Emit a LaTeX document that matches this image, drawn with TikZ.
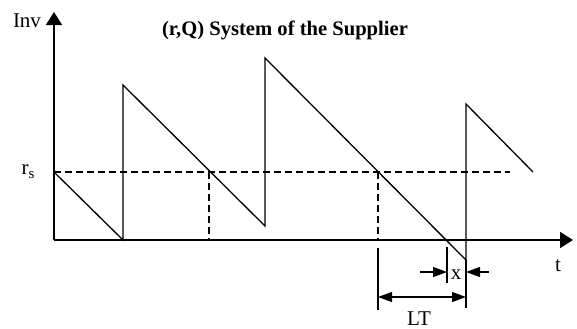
\documentclass[tikz,border=0pt]{standalone}
\usepackage{fontspec}
\setmainfont{Liberation Serif}
\usetikzlibrary{arrows.meta}
\tikzset{
  axisline/.style={line width=1.5bp,-{Triangle[length=13bp,width=16bp]}},
  curve/.style={line width=1.3bp,line join=miter},
  dashline/.style={line width=1.2bp,dash pattern=on 7bp off 4bp},
  extline/.style={line width=1.1bp},
  dimarrow/.style={line width=1.1bp,-{Triangle[length=14bp,width=10bp]}},
  dimboth/.style={line width=1.1bp,{Triangle[length=14bp,width=10bp]}-{Triangle[length=14bp,width=10bp]}},
  lbl/.style={font=\fontsize{21bp}{24bp}\selectfont,inner sep=0pt,anchor=base},
}
\begin{document}
\begin{tikzpicture}[x=1bp,y=-1bp]
\useasboundingbox (0,0) rectangle (577,328);
% key points
\coordinate (O) at (54,240);
\coordinate (ytop) at (54,12);
\coordinate (xend) at (573,240);
\coordinate (r0) at (54,172);
\coordinate (rend) at (510,172);
\coordinate (p1) at (123,240);
\coordinate (p2) at (123,85);
\coordinate (p3) at (265,226);
\coordinate (p4) at (265,58);
\coordinate (p5) at (466,260);
\coordinate (p6) at (466,104);
\coordinate (p7) at (533,172);
\coordinate (c1) at (209,172);
\coordinate (c1b) at (209,240);
\coordinate (c2) at (378,172);
\coordinate (c2b) at (378,240);
\coordinate (e1t) at (378,248);
\coordinate (e1b) at (378,310);
\coordinate (e2t) at (447,247);
\coordinate (e2b) at (447,283);
\coordinate (e3b) at (466,308);
\coordinate (xl) at (420,272);
\coordinate (xlr) at (447,272);
\coordinate (xr) at (489,272);
\coordinate (xrl) at (466,272);
\coordinate (lta) at (378,297);
\coordinate (ltb) at (466,297);
% axes
\draw[axisline] (O) -- (ytop);
\draw[axisline] (O) -- (xend);
% reorder level and crossings
\draw[dashline] (r0) -- (rend);
\draw[dashline] (c1) -- (c1b);
\draw[dashline] (c2) -- (c2b);
% inventory curve
\draw[curve] (r0) -- (p1) -- (p2) -- (p3) -- (p4) -- (p5) -- (p6) -- (p7);
% extension lines
\draw[extline] (e1t) -- (e1b);
\draw[extline] (e2t) -- (e2b);
\draw[extline] (p5) -- (e3b);
% dimension arrows
\draw[dimarrow] (xl) -- (xlr);
\draw[dimarrow] (xr) -- (xrl);
\draw[dimboth] (lta) -- (ltb);
% labels
\node[lbl] (inv) at (27,27) {Inv};
\node[lbl,font=\fontsize{20.6bp}{24bp}\selectfont\bfseries] (title) at (285,35) {(r,Q) System of the Supplier};
\node[lbl] (rs) at (28,174) {r\raisebox{-0.22em}{\fontsize{15bp}{15bp}\selectfont s}};
\node[lbl] (t) at (558,271) {t};
\node[lbl] (xlab) at (456,279) {x};
\node[lbl] (lt) at (419,325) {LT};
\end{tikzpicture}
\end{document}
